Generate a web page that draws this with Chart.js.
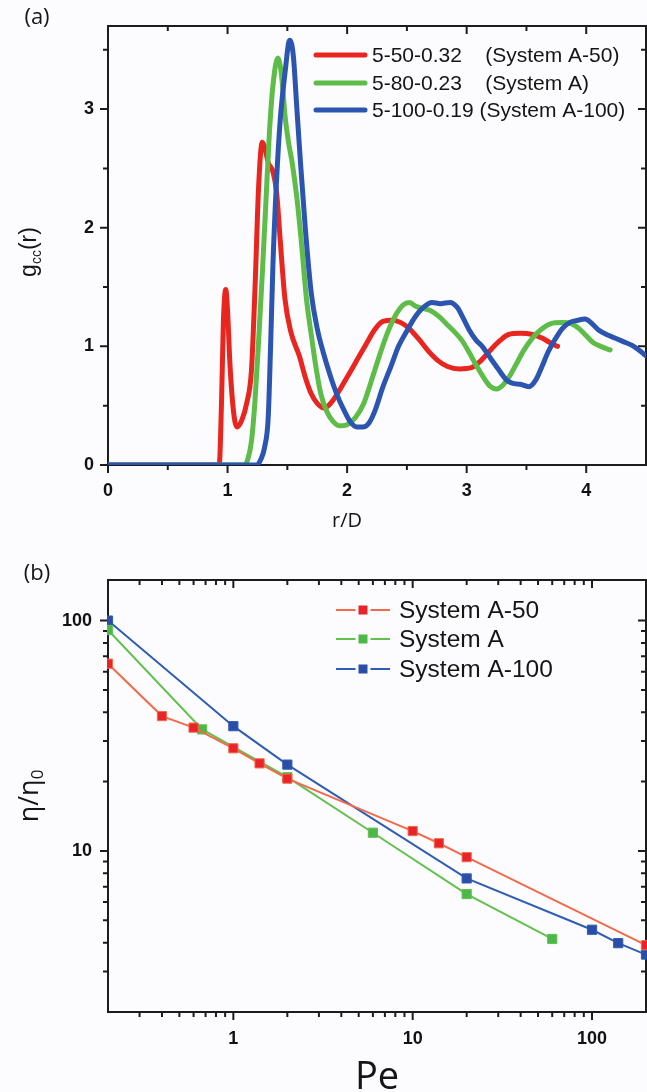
<!DOCTYPE html>
<html>
<head>
<meta charset="utf-8">
<script src="https://cdn.jsdelivr.net/npm/chart.js@4.4.1/dist/chart.umd.min.js"></script>
<style>
  html, body { margin: 0; padding: 0; background: #fcfcfe; }
  #wrap { position: relative; width: 647px; height: 1092px; overflow: hidden; }
  canvas { position: absolute; left: 0; }
  #gcc { top: 0; }
  #visc { top: 550px; }
</style>
</head>
<body>
<div id="wrap">
  <canvas id="gcc" width="647" height="550"></canvas>
  <canvas id="visc" width="647" height="542"></canvas>
</div>
<script>
// (a) g_cc(r) against r/D
const rA50 = [0, 0.93, 0.95, 0.965, 0.985, 1.0, 1.02, 1.05, 1.08, 1.12, 1.16, 1.2, 1.23, 1.26, 1.29, 1.31, 1.34, 1.38, 1.41, 1.44, 1.48, 1.53, 1.6, 1.65, 1.7, 1.75, 1.81, 1.87, 1.93, 2.0, 2.08, 2.16, 2.23, 2.3, 2.38, 2.45, 2.52, 2.6, 2.68, 2.76, 2.84, 2.94, 3.04, 3.12, 3.2, 3.28, 3.35, 3.45, 3.55, 3.63, 3.7, 3.76];
const gA50 = [0, 0, 0.55, 1.2, 1.48, 1.3, 0.85, 0.45, 0.32, 0.38, 0.52, 0.8, 1.5, 2.35, 2.72, 2.68, 2.55, 2.47, 2.3, 1.9, 1.4, 1.12, 0.92, 0.74, 0.6, 0.52, 0.48, 0.53, 0.62, 0.74, 0.88, 1.02, 1.14, 1.21, 1.22, 1.2, 1.15, 1.06, 0.96, 0.88, 0.83, 0.81, 0.82, 0.88, 0.97, 1.05, 1.1, 1.11, 1.1, 1.07, 1.03, 1.0];

const rA = [0, 1.14, 1.17, 1.2, 1.23, 1.26, 1.29, 1.32, 1.35, 1.38, 1.42, 1.45, 1.48, 1.51, 1.54, 1.58, 1.62, 1.66, 1.7, 1.74, 1.78, 1.83, 1.88, 1.94, 2.0, 2.07, 2.14, 2.2, 2.27, 2.34, 2.41, 2.47, 2.52, 2.57, 2.63, 2.7, 2.77, 2.84, 2.9, 2.96, 3.02, 3.08, 3.14, 3.2, 3.25, 3.3, 3.36, 3.42, 3.48, 3.55, 3.62, 3.7, 3.8, 3.88, 3.94, 4.0, 4.06, 4.12, 4.2];
const gA = [0, 0, 0.05, 0.2, 0.55, 1.05, 1.6, 2.2, 2.8, 3.2, 3.43, 3.3, 2.95, 2.72, 2.55, 2.25, 1.85, 1.4, 1.1, 0.82, 0.6, 0.45, 0.37, 0.33, 0.34, 0.4, 0.52, 0.7, 0.92, 1.12, 1.27, 1.35, 1.37, 1.34, 1.32, 1.3, 1.25, 1.18, 1.12, 1.05, 0.95, 0.84, 0.74, 0.66, 0.64, 0.67, 0.75, 0.86, 0.97, 1.07, 1.14, 1.19, 1.2, 1.19, 1.15, 1.09, 1.03, 1.0, 0.97];

const rA100 = [0, 1.24, 1.28, 1.31, 1.34, 1.36, 1.38, 1.41, 1.44, 1.48, 1.52, 1.55, 1.58, 1.61, 1.65, 1.7, 1.75, 1.8, 1.86, 1.92, 1.98, 2.03, 2.08, 2.13, 2.18, 2.23, 2.3, 2.37, 2.43, 2.5, 2.57, 2.64, 2.71, 2.78, 2.86, 2.92, 2.97, 3.02, 3.08, 3.13, 3.2, 3.27, 3.33, 3.38, 3.45, 3.52, 3.58, 3.63, 3.68, 3.74, 3.8, 3.86, 3.93, 3.99, 4.05, 4.1, 4.17, 4.24, 4.31, 4.38, 4.44, 4.5];
const gA100 = [0, 0, 0.05, 0.15, 0.4, 1.0, 1.7, 2.4, 2.9, 3.3, 3.58, 3.45, 3.0, 2.55, 2.0, 1.45, 1.15, 0.95, 0.75, 0.58, 0.45, 0.36, 0.32, 0.32, 0.35, 0.45, 0.66, 0.84, 1.0, 1.13, 1.25, 1.33, 1.37, 1.36, 1.37, 1.33, 1.24, 1.14, 1.05, 1.0, 0.9, 0.8, 0.72, 0.69, 0.68, 0.66, 0.72, 0.83, 0.95, 1.06, 1.15, 1.2, 1.22, 1.23, 1.19, 1.14, 1.1, 1.07, 1.04, 1.01, 0.97, 0.92];

const labelsA = ["5-50-0.32    (System A-50)", "5-80-0.23    (System A)", "5-100-0.19 (System A-100)"];
const rTicks = [0, 1, 2, 3, 4];
const rMinor = [0.5, 1.5, 2.5, 3.5];
const gTicks = [0, 1, 2, 3];
const gMinor = [0.5, 1.5, 2.5, 3.5];

// (b) relative viscosity against Pe
const peA50 = [0.2, 0.4, 0.6, 1, 1.4, 2, 10, 14, 20, 200];
const etaA50 = [65, 38.5, 34.3, 27.9, 24.0, 20.6, 12.2, 10.8, 9.4, 3.9];
const peA = [0.2, 0.67, 2, 6, 20, 60];
const etaA = [91, 33.7, 20.9, 12.0, 6.5, 4.15];
const peA100 = [0.2, 1, 2, 20, 100, 140, 200];
const etaA100 = [100, 34.8, 23.7, 7.6, 4.55, 3.98, 3.55];

const labelsB = ["System A-50", "System A", "System A-100"];
const peTicks = [1, 10, 100];
const peMinor = [0.3, 0.4, 0.5, 0.6, 0.7, 0.8, 0.9, 2, 3, 4, 5, 6, 7, 8, 9, 20, 30, 40, 50, 60, 70, 80, 90];
const etaTicks = [10, 100];
const etaMinor = [3, 4, 5, 6, 7, 8, 9, 20, 30, 40, 50, 60, 70, 80, 90];

const SANS = "'Liberation Sans', Arial, sans-serif";
const OPEN = "'Open Sans', 'Liberation Sans', sans-serif";
Chart.defaults.font.family = SANS;
Chart.defaults.color = "#111";

const toPoints = (xs, ys) => xs.map((v, i) => ({ x: v, y: ys[i] }));

// text with optional subscripts, centred on the current origin
function drawRich(ctx, parts, size, family) {
  const subSize = Math.round(size * 0.62);
  let total = 0;
  parts.forEach(p => {
    ctx.font = `${p.sub ? subSize : size}px ${family}`;
    p.w = ctx.measureText(p.t).width;
    total += p.w;
  });
  let x = -total / 2;
  parts.forEach(p => {
    ctx.font = `${p.sub ? subSize : size}px ${family}`;
    ctx.fillText(p.t, x, p.sub ? size * 0.3 : 0);
    x += p.w;
  });
}

// frame, ticks, legend and titles
function decor(conf) {
  return {
    id: "decor",
    beforeDatasetsDraw(chart) {
      const { ctx, chartArea: a } = chart;
      const xs = chart.scales.x, ys = chart.scales.y;
      ctx.save();
      ctx.strokeStyle = "#1c1c1c";
      ctx.lineWidth = 2;
      ctx.strokeRect(a.left, a.top, a.right - a.left, a.bottom - a.top);
      const tickX = (v, len) => {
        const px = xs.getPixelForValue(v);
        ctx.beginPath();
        ctx.moveTo(px, a.bottom); ctx.lineTo(px, a.bottom + len);
        ctx.moveTo(px, a.top); ctx.lineTo(px, a.top + len);
        ctx.stroke();
      };
      const tickY = (v, len) => {
        const py = ys.getPixelForValue(v);
        ctx.beginPath();
        ctx.moveTo(a.left, py); ctx.lineTo(a.left - len, py);
        ctx.moveTo(a.right, py); ctx.lineTo(a.right - len, py);
        ctx.stroke();
      };
      conf.xMajor.forEach(v => tickX(v, 8));
      conf.xMinor.forEach(v => tickX(v, 5));
      conf.yMajor.forEach(v => tickY(v, 8));
      conf.yMinor.forEach(v => tickY(v, 5));
      ctx.restore();
    },
    afterDraw(chart) {
      const ctx = chart.ctx;
      const lg = conf.legend;
      ctx.save();
      ctx.textBaseline = "middle";
      chart.data.datasets.forEach((ds, i) => {
        const y = lg.rows[i];
        ctx.strokeStyle = ds.borderColor;
        ctx.lineWidth = lg.width;
        ctx.lineCap = lg.marker ? "butt" : "round";
        ctx.beginPath();
        ctx.moveTo(lg.x0, y); ctx.lineTo(lg.x1, y);
        ctx.stroke();
        if (lg.marker) {
          const s = lg.marker;
          const cx = (lg.x0 + lg.x1) / 2;
          ctx.fillStyle = "#fcfcfe";
          ctx.fillRect(cx - s / 2 - 3, y - s / 2, s + 6, s);
          ctx.fillStyle = ds.pointBackgroundColor;
          ctx.fillRect(cx - s / 2, y - s / 2, s, s);
        }
        ctx.fillStyle = "#151515";
        ctx.font = `${lg.size}px ${SANS}`;
        ctx.textAlign = "left";
        ctx.fillText(ds.label, lg.textX, y + 1);
      });
      ctx.fillStyle = "#151515";
      conf.texts.forEach(item => {
        ctx.save();
        ctx.translate(item.x, item.y);
        if (item.rotate) ctx.rotate(-Math.PI / 2);
        drawRich(ctx, item.parts, item.size, item.family);
        ctx.restore();
      });
      ctx.restore();
    }
  };
}

const tickFont = { size: 18, weight: "bold" };
const noPad = s => { s.paddingLeft = 0; s.paddingRight = 0; };

// chart (a)
new Chart(document.querySelector("#gcc"), {
  type: "line",
  data: {
    datasets: [
      { label: labelsA[0], data: toPoints(rA50, gA50), borderColor: "#e8261f", order: 3 },
      { label: labelsA[1], data: toPoints(rA, gA), borderColor: "#5dbd48", order: 2 },
      { label: labelsA[2], data: toPoints(rA100, gA100), borderColor: "#2b55b0", order: 1 }
    ]
  },
  options: {
    responsive: false,
    animation: false,
    events: [],
    layout: { autoPadding: false, padding: { top: 26, right: 1 } },
    elements: {
      line: { borderWidth: 5, cubicInterpolationMode: "monotone", borderJoinStyle: "round", borderCapStyle: "round" },
      point: { radius: 0 }
    },
    scales: {
      x: {
        type: "linear", min: 0, max: 4.5,
        afterFit: s => { s.height = 85; noPad(s); },
        grid: { display: false, drawTicks: false }, border: { display: false },
        ticks: { stepSize: 1, includeBounds: false, padding: 15, font: tickFont, maxRotation: 0 }
      },
      y: {
        min: 0, max: 3.7,
        afterFit: s => { s.width = 108; },
        grid: { display: false, drawTicks: false }, border: { display: false },
        ticks: { stepSize: 1, includeBounds: false, padding: 14, font: tickFont }
      }
    },
    plugins: { legend: { display: false }, tooltip: { enabled: false } }
  },
  plugins: [decor({
    xMajor: rTicks, xMinor: rMinor, yMajor: gTicks, yMinor: gMinor,
    legend: { x0: 316, x1: 365, textX: 372, rows: [55, 83, 110], size: 21, width: 5 },
    texts: [
      { x: 37, y: 18, size: 22, family: OPEN, parts: [{ t: "(a)" }] },
      { x: 347, y: 521, size: 20, family: OPEN, parts: [{ t: "r/D" }] },
      { x: 30, y: 252, size: 23, family: SANS, rotate: true, parts: [{ t: "g" }, { t: "cc", sub: true }, { t: "(r)" }] }
    ]
  })]
});

const isDecade = v => Math.abs(Math.log10(v) - Math.round(Math.log10(v))) < 1e-6;

// chart (b)
new Chart(document.querySelector("#visc"), {
  type: "line",
  data: {
    datasets: [
      { label: labelsB[0], data: toPoints(peA50, etaA50), borderColor: "#f26a4c", pointBackgroundColor: "#e8232a" },
      { label: labelsB[1], data: toPoints(peA, etaA), borderColor: "#62c04e", pointBackgroundColor: "#4cb847" },
      { label: labelsB[2], data: toPoints(peA100, etaA100), borderColor: "#2f5db3", pointBackgroundColor: "#2a4ea6" }
    ]
  },
  options: {
    responsive: false,
    animation: false,
    events: [],
    layout: { autoPadding: false, padding: { top: 30, right: 1 } },
    datasets: { line: { clip: 1 } },
    elements: {
      line: { borderWidth: 2, tension: 0 },
      point: { radius: 6.5, pointStyle: "rect", borderWidth: 1, borderColor: "rgba(255,255,255,0.7)" }
    },
    scales: {
      x: {
        type: "logarithmic", min: 0.2, max: 200,
        afterFit: s => { s.height = 80; noPad(s); },
        grid: { display: false, drawTicks: false }, border: { display: false },
        ticks: { autoSkip: false, maxRotation: 0, padding: 16, font: tickFont, callback: v => isDecade(v) ? String(v) : "" }
      },
      y: {
        type: "logarithmic", min: 2, max: 150,
        afterFit: s => { s.width = 108; },
        grid: { display: false, drawTicks: false }, border: { display: false },
        ticks: { autoSkip: false, padding: 16, font: tickFont, callback: v => isDecade(v) ? String(v) : "" }
      }
    },
    plugins: { legend: { display: false }, tooltip: { enabled: false } }
  },
  plugins: [decor({
    xMajor: peTicks, xMinor: peMinor, yMajor: etaTicks, yMinor: etaMinor,
    legend: { x0: 336, x1: 390, textX: 399, rows: [60, 89, 119], size: 24.5, width: 2, marker: 9 },
    texts: [
      { x: 37, y: 24, size: 22, family: OPEN, parts: [{ t: "(b)" }] },
      { x: 377, y: 528, size: 38, family: OPEN, parts: [{ t: "Pe" }] },
      { x: 30, y: 246, size: 27, family: OPEN, rotate: true, parts: [{ t: "η/η" }, { t: "0", sub: true }] }
    ]
  })]
});
</script>
</body>
</html>
